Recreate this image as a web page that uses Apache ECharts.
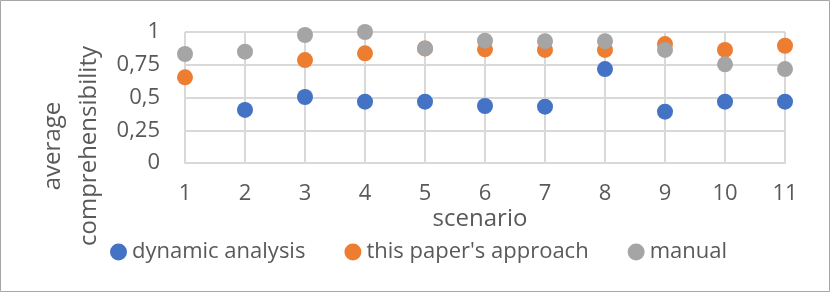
<!DOCTYPE html>
<html><head><meta charset="utf-8">
<script src="https://cdn.jsdelivr.net/npm/echarts@6/dist/echarts.min.js"></script>
<style>html,body{margin:0;padding:0;background:#fff}#c{width:830px;height:292px}</style>
</head><body><div id="c"></div>
<script>
const scenarios = [1,2,3,4,5,6,7,8,9,10,11];
const dynamicAnalysis = [null,0.405,0.504,0.468,0.468,0.435,0.43,0.717,0.392,0.468,0.468];
const thisPapersApproach = [0.654,null,0.786,0.837,0.875,0.868,0.863,0.863,0.908,0.863,0.895];
const manual = [0.832,0.85,0.977,1.0,0.875,0.934,0.93,0.93,0.863,0.753,0.717];
const yTicks = [0,0.25,0.5,0.75,1];
const seriesNames = ["dynamic analysis","this paper's approach","manual"];
const colors = ["#4472c4","#ed7d31","#a5a5a5"];
const FONT = "'Open Sans'";
const TXT = "#595959";

function pairs(vals){ return scenarios.map((s,i)=>[s,vals[i]]).filter(p=>p[1]!==null); }

const chart = echarts.init(document.getElementById('c'), null, {renderer:'canvas'});
chart.setOption({
  animation:false,
  grid:{left:185,right:45,top:32,bottom:129,containLabel:false},
  xAxis:{type:'value',min:1,max:11,interval:1,
    axisLine:{show:true,lineStyle:{color:'#d9d9d9',width:2}},
    axisTick:{show:false},
    splitLine:{show:true,lineStyle:{color:'#d9d9d9',width:2}},
    axisLabel:{color:TXT,fontFamily:FONT,fontSize:22,margin:20}},
  yAxis:{type:'value',min:0,max:1,interval:0.25,
    axisLine:{show:false},axisTick:{show:false},
    splitLine:{show:true,lineStyle:{color:'#d9d9d9',width:2}},
    axisLabel:{color:TXT,fontFamily:FONT,fontSize:22,margin:25,
      formatter:v=>String(v).replace('.',',')}},
  legend:{top:236,left:105,itemWidth:17,itemHeight:17,itemGap:39,icon:'circle',
    textStyle:{color:TXT,fontFamily:FONT,fontSize:22,padding:[0,0,0,0]},
    data:seriesNames},
  graphic:[
    {type:'rect',shape:{x:0.5,y:0.5,width:829,height:291},style:{fill:null,stroke:'#a6a6a6',lineWidth:1},silent:true},
    {type:'text',x:480,y:219,style:{text:'scenario',fill:TXT,font:'24px '+FONT,align:'center',verticalAlign:'middle'}},
    {type:'text',x:71,y:146,rotation:Math.PI/2,style:{text:'average\ncomprehensibility',fill:TXT,font:'24px '+FONT,align:'center',verticalAlign:'middle',lineHeight:36}}
  ],
  series:seriesNames.map((n,k)=>({name:n,type:'scatter',symbol:'circle',symbolSize:16,
    itemStyle:{color:colors[k],opacity:1},
    data:pairs([dynamicAnalysis,thisPapersApproach,manual][k])}))
});
</script></body></html>
